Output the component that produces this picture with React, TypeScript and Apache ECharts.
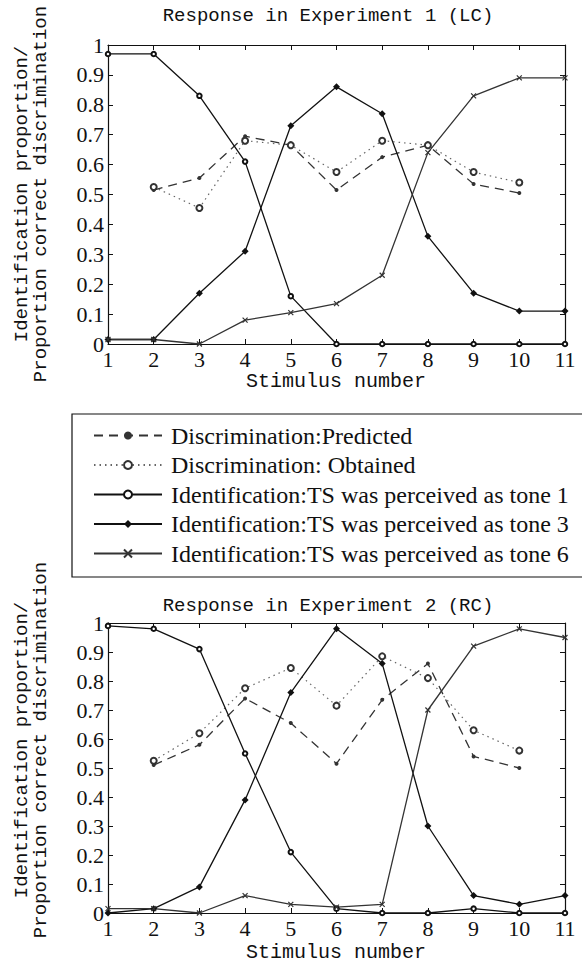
import React, { useEffect, useRef } from "react";
import * as echarts from "echarts";

const stimuli = [1, 2, 3, 4, 5, 6, 7, 8, 9, 10, 11];
const pairStimuli = [2, 3, 4, 5, 6, 7, 8, 9, 10];

const exp1Predicted = [0.515, 0.555, 0.695, 0.665, 0.515, 0.625, 0.665, 0.535, 0.505];
const exp1Obtained = [0.525, 0.455, 0.68, 0.665, 0.575, 0.68, 0.665, 0.575, 0.54];
const exp1Tone1 = [0.97, 0.97, 0.83, 0.61, 0.16, 0, 0, 0, 0, 0, 0];
const exp1Tone3 = [0.015, 0.015, 0.17, 0.31, 0.73, 0.86, 0.77, 0.36, 0.17, 0.11, 0.11];
const exp1Tone6 = [0.015, 0.015, 0, 0.08, 0.105, 0.135, 0.23, 0.64, 0.83, 0.89, 0.89];

const exp2Predicted = [0.51, 0.58, 0.74, 0.655, 0.515, 0.735, 0.86, 0.54, 0.5];
const exp2Obtained = [0.525, 0.62, 0.775, 0.845, 0.715, 0.885, 0.81, 0.63, 0.56];
const exp2Tone1 = [0.99, 0.98, 0.91, 0.55, 0.21, 0.015, 0, 0, 0.015, 0, 0];
const exp2Tone3 = [0, 0.015, 0.09, 0.39, 0.76, 0.98, 0.86, 0.3, 0.06, 0.03, 0.06];
const exp2Tone6 = [0.015, 0.015, 0, 0.06, 0.03, 0.02, 0.03, 0.7, 0.92, 0.98, 0.95];

const titles = ["Response in Experiment 1 (LC)", "Response in Experiment 2 (RC)"];
const xName = "Stimulus number";
const yName = "Identification proportion/\nProportion correct discrimination";
const names = [
  "Discrimination:Predicted",
  "Discrimination: Obtained",
  "Identification:TS was perceived as tone 1",
  "Identification:TS was perceived as tone 3",
  "Identification:TS was perceived as tone 6",
];

const MONO = "Liberation Mono";
const SERIF = "Liberation Serif";
const INK = "#111";

const zip = (xs: number[], ys: number[]) => xs.map((x, i) => [x, ys[i]]);

export default function App() {
  const ref = useRef<HTMLDivElement>(null);
  useEffect(() => {
    document.body.style.margin = "0";
    if (!ref.current) return;
    const chart = echarts.init(ref.current, undefined, { renderer: "svg" });

    const grids = [
      { left: 108, top: 45, width: 457, height: 299, outerBoundsMode: "none", containLabel: false },
      { left: 108, top: 623, width: 457, height: 290, outerBoundsMode: "none", containLabel: false },
    ];

    const xAxes: any[] = [];
    const yAxes: any[] = [];
    grids.forEach((_, g) => {
      const line = { lineStyle: { color: INK, width: 1.2 } };
      const tick = { show: true, inside: true, length: 5, lineStyle: { color: INK, width: 1 } };
      xAxes.push({
        type: "value", gridIndex: g, position: "bottom", min: 1, max: 11, interval: 1,
        axisLine: { show: true, onZero: false, ...line },
        axisTick: tick,
        axisLabel: { color: INK, fontFamily: SERIF, fontSize: 22, margin: 4 },
        splitLine: { show: false },
      });
      xAxes.push({
        type: "value", gridIndex: g, position: "top", min: 1, max: 11, interval: 1,
        axisLine: { show: true, onZero: false, ...line },
        axisTick: tick,
        axisLabel: { show: false },
        splitLine: { show: false },
      });
      yAxes.push({
        type: "value", gridIndex: g, position: "left", min: 0, max: 1, interval: 0.1,
        axisLine: { show: true, onZero: false, ...line },
        axisTick: tick,
        axisLabel: {
          color: INK, fontFamily: SERIF, fontSize: 22, margin: 4,
          formatter: (v: number) => String(Math.round(v * 10) / 10),
        },
        splitLine: { show: false },
      });
      yAxes.push({
        type: "value", gridIndex: g, position: "right", min: 0, max: 1, interval: 0.1,
        axisLine: { show: true, onZero: false, ...line },
        axisTick: tick,
        axisLabel: { show: false },
        splitLine: { show: false },
      });
    });

    const crossPath = "path://M0,0L10,10M10,0L0,10";
    const mk = (g: number, d: any[]) => {
      const [pred, obt, t1, t3, t6] = d;
      const base = { type: "line", xAxisIndex: g * 2, yAxisIndex: g * 2, clip: false, z: 3 };
      return [
        { ...base, name: names[0], data: zip(pairStimuli, pred), symbol: "circle", symbolSize: 4,
          itemStyle: { color: "#333" }, lineStyle: { color: "#333", width: 1.3, type: [9, 6] } },
        { ...base, name: names[1], data: zip(pairStimuli, obt), symbol: "emptyCircle", symbolSize: 6,
          itemStyle: { color: "#333", borderColor: "#333", borderWidth: 1.2 },
          lineStyle: { color: "#666", width: 1.2, type: [1.5, 4] } },
        { ...base, name: names[2], data: zip(stimuli, t1), symbol: "emptyCircle", symbolSize: 4.5,
          itemStyle: { color: INK, borderColor: INK, borderWidth: 1.5 },
          lineStyle: { color: INK, width: 1.3 } },
        { ...base, name: names[3], data: zip(stimuli, t3), symbol: "diamond", symbolSize: 7,
          itemStyle: { color: INK },
          lineStyle: { color: INK, width: 1.3 } },
        { ...base, name: names[4], data: zip(stimuli, t6), symbol: crossPath, symbolSize: 5,
          itemStyle: { color: "#333", borderColor: "#333", borderWidth: 1.2 },
          lineStyle: { color: "#333", width: 1.3 } },
      ];
    };

    const series = [
      ...mk(0, [exp1Predicted, exp1Obtained, exp1Tone1, exp1Tone3, exp1Tone6]),
      ...mk(1, [exp2Predicted, exp2Obtained, exp2Tone1, exp2Tone3, exp2Tone6]),
    ];

    const centered = (text: string, size: number) => ({
      text, font: `${size}px "${MONO}"`, fill: INK, lineHeight: size,
      textAlign: "center", textVerticalAlign: "middle", align: "center", verticalAlign: "middle",
    });
    const yNameEl = (cy: number) => ({
      type: "text", x: 31, y: cy, rotation: Math.PI / 2,
      style: { ...centered(yName, 19), lineHeight: 19 },
    });

    chart.setOption({
      animation: false,
      backgroundColor: "#fff",
      grid: grids,
      xAxis: xAxes,
      yAxis: yAxes,
      series,
      legend: {
        data: names,
        orient: "vertical",
        left: 88,
        top: 418,
        itemWidth: 68,
        itemHeight: 10,
        itemGap: 4.5,
        selectedMode: false,
        textStyle: { color: INK, fontFamily: SERIF, fontSize: 24, lineHeight: 25, padding: [0, 0, 0, 4] },
      },
      graphic: [
        { type: "rect", shape: { x: 72, y: 414, width: 540, height: 163 },
          style: { fill: "none", stroke: INK, lineWidth: 1.2 }, z: 10 },
        { type: "text", x: 328, y: 16, style: centered(titles[0], 19) },
        { type: "text", x: 328, y: 606, style: centered(titles[1], 19) },
        { type: "text", x: 336, y: 381, style: centered(xName, 20) },
        { type: "text", x: 336, y: 952, style: centered(xName, 20) },
        yNameEl(194),
        yNameEl(750),
      ],
    });
    return () => chart.dispose();
  }, []);
  return <div ref={ref} style={{ width: 582, height: 964 }} />;
}
